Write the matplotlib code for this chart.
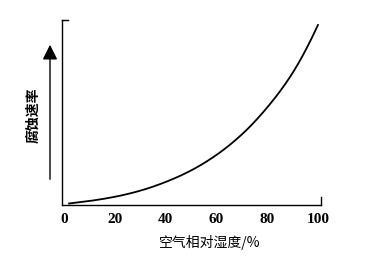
import matplotlib
matplotlib.use("Agg")
import matplotlib.pyplot as plt
import numpy as np

humidity = [2, 10, 20, 30, 40, 50, 60, 70, 80, 90, 100]
rate = [1.5, 4.0, 8.2, 14.3, 23, 34.5, 50, 70.5, 97.5, 132, 180]
xticks = [0, 20, 40, 60, 80, 100]
xlabel = "空气相对湿度/%"
ylabel = "腐蚀速率"


def pchip(x, y, xn):
    x = np.asarray(x, float); y = np.asarray(y, float)
    h = np.diff(x); d = np.diff(y) / h
    m = np.zeros_like(y)
    for k in range(1, len(x) - 1):
        if d[k - 1] * d[k] > 0:
            w1 = 2 * h[k] + h[k - 1]; w2 = h[k] + 2 * h[k - 1]
            m[k] = (w1 + w2) / (w1 / d[k - 1] + w2 / d[k])
    m[0] = d[0]; m[-1] = d[-1] + (d[-1] - d[-2]) * 0.5
    idx = np.clip(np.searchsorted(x, xn) - 1, 0, len(x) - 2)
    t = (xn - x[idx]) / h[idx]
    h00 = 2 * t**3 - 3 * t**2 + 1; h10 = t**3 - 2 * t**2 + t
    h01 = -2 * t**3 + 3 * t**2; h11 = t**3 - t**2
    return h00 * y[idx] + h10 * h[idx] * m[idx] + h01 * y[idx + 1] + h11 * h[idx] * m[idx + 1]


W, H = 372, 260
fig = plt.figure(figsize=(W / 100, H / 100), dpi=100)
L, R, T, B = 62, 321, 20, 205
ax = fig.add_axes([L / W, 1 - B / H, (R - L) / W, (B - T) / H])

xs = np.linspace(humidity[0], humidity[-1], 300)
ax.plot(xs, pchip(humidity, rate, xs), color="black", lw=1.3)

ax.set_xlim(-0.79, 101.2)
ax.set_ylim(0, 185)
for s in ["top", "right"]:
    ax.spines[s].set_visible(False)
for s in ["left", "bottom"]:
    ax.spines[s].set_linewidth(1.0)
ax.plot([0, 0.025], [1, 1], transform=ax.transAxes, color="black", lw=1.0, clip_on=False)
ax.plot([1, 1], [0, 0.045], transform=ax.transAxes, color="black", lw=1.0, clip_on=False)

ax.set_xticks(xticks)
ax.set_xticklabels([str(t) for t in xticks], fontfamily="Liberation Serif", fontsize=11, fontweight="bold")
ax.tick_params(axis="x", length=0, pad=6)
ax.set_yticks([])

fig.text(210 / W, 1 - 242 / H, xlabel, ha="center", va="center",
         fontfamily=["Noto Sans CJK SC", "DejaVu Sans"], fontsize=10)
fig.text(33 / W, 1 - 115 / H, ylabel, ha="center", va="center", rotation=90,
         fontfamily=["Noto Sans CJK SC", "DejaVu Sans"], fontsize=10, fontweight="bold")
fig.add_artist(matplotlib.patches.FancyArrowPatch(
    (50 / W, 1 - 182 / H), (50 / W, 1 - 42 / H), transform=fig.transFigure,
    arrowstyle="-|>,head_length=6,head_width=3", mutation_scale=1.5, color="black", lw=1.0))

fig.savefig("out.png", dpi=100)
